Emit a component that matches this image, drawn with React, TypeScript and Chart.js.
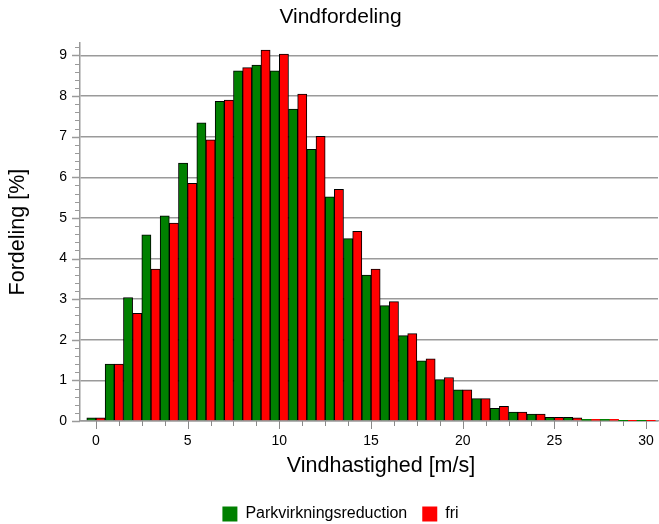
import React, { useEffect, useRef } from 'react';
import { Chart, registerables } from 'chart.js';

Chart.register(...registerables);

const windSpeeds = [0, 1, 2, 3, 4, 5, 6, 7, 8, 9, 10, 11, 12, 13, 14, 15, 16, 17, 18, 19, 20, 21, 22, 23, 24, 25, 26, 27, 28, 29, 30];
const parkReduction = [0.08, 1.40, 3.04, 4.58, 5.05, 6.35, 7.34, 7.87, 8.62, 8.76, 8.62, 7.68, 6.69, 5.52, 4.49, 3.59, 2.84, 2.10, 1.48, 1.02, 0.77, 0.55, 0.31, 0.22, 0.17, 0.09, 0.09, 0.04, 0.04, 0.01, 0.01];
const free = [0.08, 1.40, 2.65, 3.74, 4.87, 5.85, 6.92, 7.90, 8.70, 9.13, 9.03, 8.05, 7.01, 5.70, 4.67, 3.74, 2.94, 2.15, 1.53, 1.07, 0.77, 0.55, 0.36, 0.22, 0.17, 0.09, 0.08, 0.04, 0.04, 0.01, 0.01];
const xTickValues = [0, 5, 10, 15, 20, 25, 30];
const yTickValues = [0, 1, 2, 3, 4, 5, 6, 7, 8, 9];
const xMinorStep = 1.25;
const yMinorStep = 0.2;
const xAxisTitle = 'Vindhastighed [m/s]';

const FONT = 'Liberation Sans';
const GRID = '#9a9a9a';

export default function App() {
  const ref = useRef<HTMLCanvasElement>(null);

  useEffect(() => {
    if (!ref.current) return;

    const tickPlugin = {
      id: 'customTicks',
      afterDraw(chart: any) {
        const { ctx, chartArea, scales } = chart;
        const xs = scales.x;
        const ys = scales.y;
        ctx.save();
        ctx.strokeStyle = '#8a8a8a';
        ctx.lineWidth = 1;
        const xMax = xTickValues[xTickValues.length - 1];
        for (let i = 0; i * xMinorStep <= xMax + 1e-9; i++) {
          const v = i * xMinorStep;
          const major = xTickValues.includes(v);
          const px = Math.round(xs.getPixelForValue(v)) + 0.5;
          ctx.beginPath();
          ctx.moveTo(px, chartArea.bottom);
          ctx.lineTo(px, chartArea.bottom + (major ? 8 : 5));
          ctx.stroke();
        }
        ctx.strokeStyle = GRID;
        const yMax = ys.max;
        for (let i = 0; i * yMinorStep <= yMax + 1e-9; i++) {
          const v = i * yMinorStep;
          const major = Math.abs(v - Math.round(v)) < 1e-6;
          const py = Math.round(ys.getPixelForValue(v)) + 0.5;
          ctx.lineWidth = major ? 1.5 : 1;
          ctx.beginPath();
          ctx.moveTo(chartArea.left, py);
          ctx.lineTo(chartArea.left - (major ? 8 : 5), py);
          ctx.stroke();
        }
        // x axis title
        ctx.fillStyle = '#000';
        ctx.font = `21.5px "${FONT}"`;
        ctx.textAlign = 'center';
        ctx.textBaseline = 'middle';
        ctx.fillText(xAxisTitle, (chartArea.left + chartArea.right) / 2 + 12, chartArea.bottom + 45);
        ctx.restore();
      },
    };

    const bw = (c: any) => (c.raw && c.raw.y < 0.06 ? 0 : 1);

    const chart = new Chart(ref.current, {
      type: 'bar',
      data: {
        datasets: [
          {
            label: 'Parkvirkningsreduction',
            data: windSpeeds.map((s, i) => ({ x: s, y: parkReduction[i] })),
            backgroundColor: '#008000',
            borderColor: '#000000',
            borderWidth: bw,
            barPercentage: 1,
            categoryPercentage: 1,
          },
          {
            label: 'fri',
            data: windSpeeds.map((s, i) => ({ x: s, y: free[i] })),
            backgroundColor: '#ff0000',
            borderColor: '#000000',
            borderWidth: bw,
            barPercentage: 1,
            categoryPercentage: 1,
          },
        ],
      },
      options: {
        responsive: false,
        animation: false,
        layout: { padding: { left: 23, right: 1, top: 0, bottom: 0 } },
        scales: {
          x: {
            type: 'linear',
            min: -0.87,
            max: 30.65,
            offset: false,
            grid: { display: false, drawTicks: false },
            border: { display: true, color: GRID, width: 1.5 },
            afterBuildTicks: (s: any) => {
              s.ticks = xTickValues.map((v) => ({ value: v }));
            },
            ticks: {
              color: '#000',
              font: { family: FONT, size: 14 },
              padding: 12,
              maxRotation: 0,
              autoSkip: false,
            },
            title: { display: false },
            afterFit: (s: any) => {
              s.height = 70;
              s.paddingLeft = 0;
              s.paddingRight = 0;
            },
          },
          y: {
            min: 0,
            max: 9.3,
            z: 1,
            grid: { color: GRID, lineWidth: 1.5, drawTicks: false },
            border: { color: GRID, width: 1.5 },
            afterBuildTicks: (s: any) => {
              s.ticks = yTickValues.map((v) => ({ value: v }));
            },
            ticks: {
              color: '#000',
              font: { family: FONT, size: 14 },
              padding: 13,
            },
            title: {
              display: true,
              text: 'Fordeling [%]',
              color: '#000',
              font: { family: FONT, size: 21.5 },
              padding: { top: -17.6, bottom: 0 },
            },
            afterFit: (s: any) => {
              s.width = 57;
              s.paddingTop = 0;
              s.paddingBottom = 0;
            },
          },
        },
        plugins: {
          title: {
            display: true,
            text: 'Vindfordeling',
            color: '#000',
            font: { family: FONT, size: 21, weight: 'normal' },
            padding: { top: 5, bottom: 13 },
          },
          legend: {
            position: 'bottom',
            maxHeight: 33,
            labels: {
              boxWidth: 15,
              boxHeight: 15,
              padding: 15,
              color: '#000',
              font: { family: FONT, size: 16 },
              generateLabels: (c: any) =>
                Chart.defaults.plugins.legend.labels
                  .generateLabels(c)
                  .map((l: any) => ({ ...l, lineWidth: 0 })),
            },
          },
          tooltip: { enabled: false },
        },
      } as any,
      plugins: [tickPlugin],
    });

    return () => chart.destroy();
  }, []);

  return (
    <div style={{ position: 'fixed', left: 0, top: 0, width: 659, height: 524, background: '#fff' }}>
      <canvas ref={ref} width={659} height={524} style={{ display: 'block' }} />
    </div>
  );
}
